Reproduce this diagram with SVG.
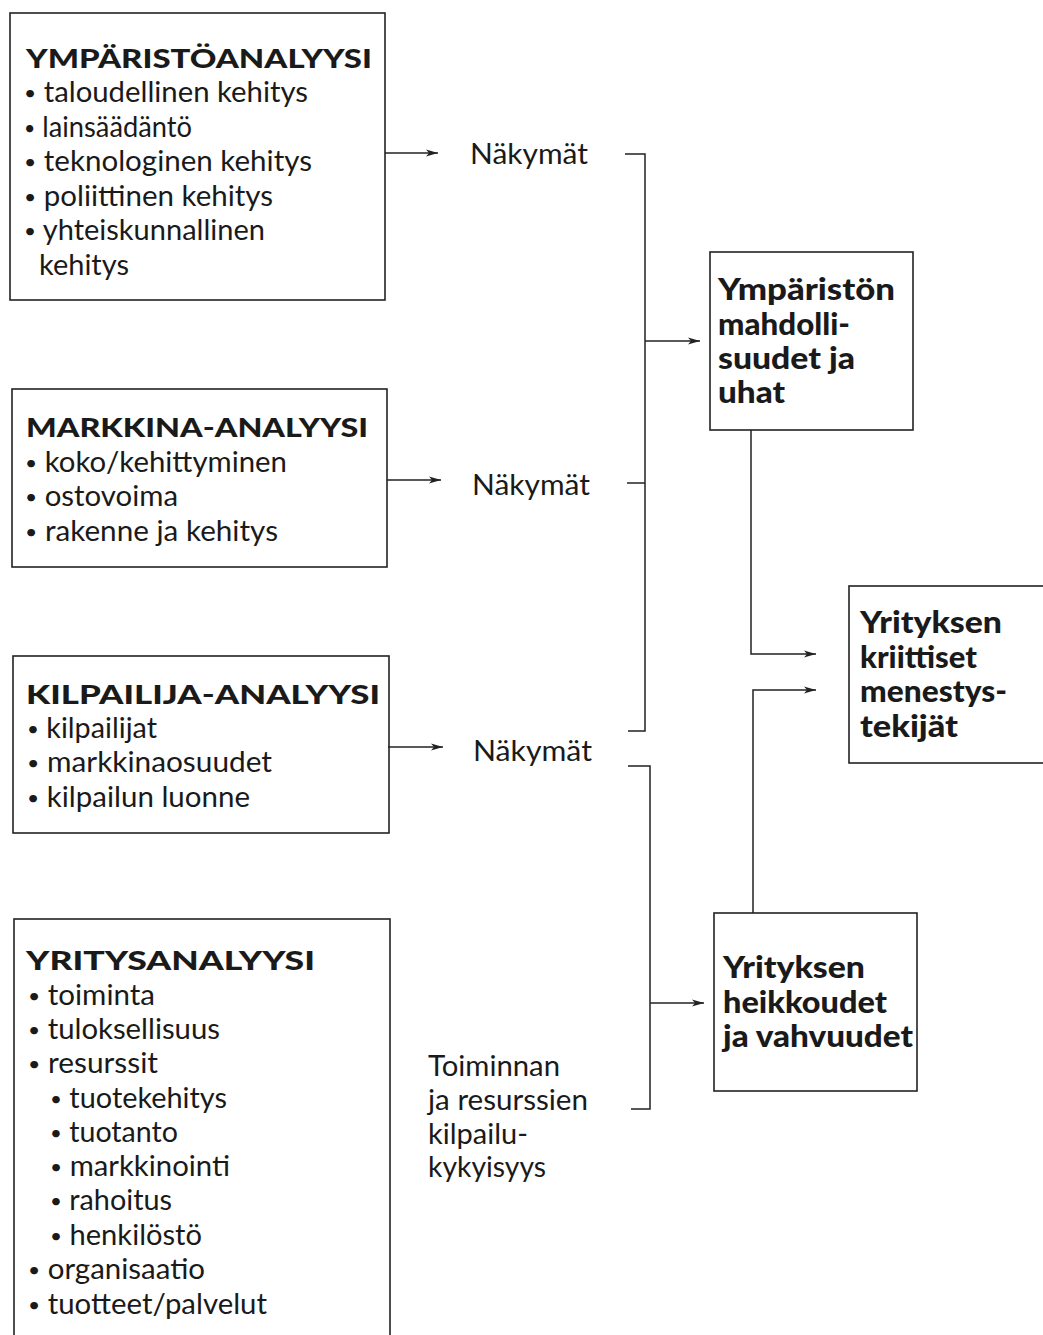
<svg xmlns="http://www.w3.org/2000/svg" width="1043" height="1335" viewBox="0 0 1043 1335">
  <defs>
    <marker id="arrow" viewBox="0 0 12 8" refX="12" refY="4" markerWidth="12" markerHeight="8" markerUnits="userSpaceOnUse" orient="auto">
      <path d="M0,0.5 L12,4 L0,7.5 L3,4 Z" fill="#222"/>
    </marker>
    <style>
      .box { fill: #fff; stroke: #222; stroke-width: 1.6; }
      .wire { fill: none; stroke: #222; stroke-width: 1.5; }
      .arr { marker-end: url(#arrow); }
      text { font-family: Lato, "Open Sans", "Liberation Sans", sans-serif; fill: #1a1a1a; }
      .head { font-size: 27px; font-weight: 900; }
      .item { font-size: 28px; }
      .b { font-size: 20px; baseline-shift: 2px; }
      .lbl { font-size: 28px; }
      .res { font-size: 30px; font-weight: 900; }
    </style>
  </defs>

  <rect width="1043" height="1335" fill="#fff"/>

  <!-- Environment analysis -->
  <g id="ymparistoanalyysi">
    <rect class="box" x="10" y="13" width="375" height="287"/>
    <text class="head" x="26" y="68" textLength="346" lengthAdjust="spacingAndGlyphs">YMPÄRISTÖANALYYSI</text>
    <text class="item" x="24" y="102" textLength="284" lengthAdjust="spacingAndGlyphs"><tspan class="b">•</tspan> taloudellinen kehitys</text>
    <text class="item" x="24" y="137" textLength="168" lengthAdjust="spacingAndGlyphs"><tspan class="b">•</tspan> lainsäädäntö</text>
    <text class="item" x="24" y="171" textLength="288" lengthAdjust="spacingAndGlyphs"><tspan class="b">•</tspan> teknologinen kehitys</text>
    <text class="item" x="24" y="206" textLength="249" lengthAdjust="spacingAndGlyphs"><tspan class="b">•</tspan> poliittinen kehitys</text>
    <text class="item" x="24" y="240" textLength="241" lengthAdjust="spacingAndGlyphs"><tspan class="b">•</tspan> yhteiskunnallinen</text>
    <text class="item" x="39" y="275" textLength="90" lengthAdjust="spacingAndGlyphs">kehitys</text>
  </g>

  <!-- Market analysis -->
  <g id="markkina-analyysi">
    <rect class="box" x="12" y="389" width="375" height="178"/>
    <text class="head" x="26" y="437" textLength="342" lengthAdjust="spacingAndGlyphs">MARKKINA-ANALYYSI</text>
    <text class="item" x="25" y="472" textLength="262" lengthAdjust="spacingAndGlyphs"><tspan class="b">•</tspan> koko/kehittyminen</text>
    <text class="item" x="25" y="506" textLength="153" lengthAdjust="spacingAndGlyphs"><tspan class="b">•</tspan> ostovoima</text>
    <text class="item" x="25" y="541" textLength="253" lengthAdjust="spacingAndGlyphs"><tspan class="b">•</tspan> rakenne ja kehitys</text>
  </g>

  <!-- Competitor analysis -->
  <g id="kilpailija-analyysi">
    <rect class="box" x="13" y="656" width="376" height="177"/>
    <text class="head" x="26" y="704" textLength="354" lengthAdjust="spacingAndGlyphs">KILPAILIJA-ANALYYSI</text>
    <text class="item" x="27" y="738" textLength="130" lengthAdjust="spacingAndGlyphs"><tspan class="b">•</tspan> kilpailijat</text>
    <text class="item" x="27" y="772" textLength="245" lengthAdjust="spacingAndGlyphs"><tspan class="b">•</tspan> markkinaosuudet</text>
    <text class="item" x="27" y="807" textLength="223" lengthAdjust="spacingAndGlyphs"><tspan class="b">•</tspan> kilpailun luonne</text>
  </g>

  <!-- Company analysis (box runs past the bottom edge) -->
  <g id="yritysanalyysi">
    <rect class="box" x="14" y="919" width="376" height="440"/>
    <text class="head" x="26" y="970" textLength="289" lengthAdjust="spacingAndGlyphs">YRITYSANALYYSI</text>
    <text class="item" x="28" y="1005" textLength="127" lengthAdjust="spacingAndGlyphs"><tspan class="b">•</tspan> toiminta</text>
    <text class="item" x="28" y="1039" textLength="192" lengthAdjust="spacingAndGlyphs"><tspan class="b">•</tspan> tuloksellisuus</text>
    <text class="item" x="28" y="1073" textLength="130" lengthAdjust="spacingAndGlyphs"><tspan class="b">•</tspan> resurssit</text>
    <text class="item" x="50" y="1108" textLength="177" lengthAdjust="spacingAndGlyphs"><tspan class="b">•</tspan> tuotekehitys</text>
    <text class="item" x="50" y="1142" textLength="128" lengthAdjust="spacingAndGlyphs"><tspan class="b">•</tspan> tuotanto</text>
    <text class="item" x="50" y="1176" textLength="180" lengthAdjust="spacingAndGlyphs"><tspan class="b">•</tspan> markkinointi</text>
    <text class="item" x="50" y="1210" textLength="122" lengthAdjust="spacingAndGlyphs"><tspan class="b">•</tspan> rahoitus</text>
    <text class="item" x="50" y="1245" textLength="152" lengthAdjust="spacingAndGlyphs"><tspan class="b">•</tspan> henkilöstö</text>
    <text class="item" x="28" y="1279" textLength="177" lengthAdjust="spacingAndGlyphs"><tspan class="b">•</tspan> organisaatio</text>
    <text class="item" x="28" y="1314" textLength="239" lengthAdjust="spacingAndGlyphs"><tspan class="b">•</tspan> tuotteet/palvelut</text>
  </g>

  <!-- Outlook labels -->
  <g id="nakymat-1"><text class="lbl" x="470" y="164" textLength="118" lengthAdjust="spacingAndGlyphs">Näkymät</text></g>
  <g id="nakymat-2"><text class="lbl" x="472" y="495" textLength="118" lengthAdjust="spacingAndGlyphs">Näkymät</text></g>
  <g id="nakymat-3"><text class="lbl" x="473" y="761" textLength="119" lengthAdjust="spacingAndGlyphs">Näkymät</text></g>
  <g id="kilpailukyky">
    <text class="lbl" x="428" y="1076" textLength="132" lengthAdjust="spacingAndGlyphs">Toiminnan</text>
    <text class="lbl" x="428" y="1110" textLength="160" lengthAdjust="spacingAndGlyphs">ja resurssien</text>
    <text class="lbl" x="428" y="1144" textLength="100" lengthAdjust="spacingAndGlyphs">kilpailu-</text>
    <text class="lbl" x="428" y="1177" textLength="118" lengthAdjust="spacingAndGlyphs">kykyisyys</text>
  </g>

  <!-- Opportunities and threats -->
  <g id="mahdollisuudet">
    <rect class="box" x="710" y="252" width="203" height="178"/>
    <text class="res" x="718" y="300" textLength="177" lengthAdjust="spacingAndGlyphs">Ympäristön</text>
    <text class="res" x="718" y="335" textLength="132" lengthAdjust="spacingAndGlyphs">mahdolli-</text>
    <text class="res" x="718" y="369" textLength="137" lengthAdjust="spacingAndGlyphs">suudet ja</text>
    <text class="res" x="718" y="403" textLength="67" lengthAdjust="spacingAndGlyphs">uhat</text>
  </g>

  <!-- Critical success factors (box runs past the right edge) -->
  <g id="menestystekijat">
    <rect class="box" x="849" y="586" width="220" height="177"/>
    <text class="res" x="860" y="633" textLength="142" lengthAdjust="spacingAndGlyphs">Yrityksen</text>
    <text class="res" x="860" y="668" textLength="117" lengthAdjust="spacingAndGlyphs">kriittiset</text>
    <text class="res" x="860" y="702" textLength="147" lengthAdjust="spacingAndGlyphs">menestys-</text>
    <text class="res" x="860" y="737" textLength="98" lengthAdjust="spacingAndGlyphs">tekijät</text>
  </g>

  <!-- Weaknesses and strengths -->
  <g id="heikkoudet">
    <rect class="box" x="714" y="913" width="203" height="178"/>
    <text class="res" x="723" y="978" textLength="142" lengthAdjust="spacingAndGlyphs">Yrityksen</text>
    <text class="res" x="723" y="1013" textLength="164" lengthAdjust="spacingAndGlyphs">heikkoudet</text>
    <text class="res" x="723" y="1047" textLength="190" lengthAdjust="spacingAndGlyphs">ja vahvuudet</text>
  </g>

  <!-- Connectors -->
  <g id="connectors">
    <path class="wire arr" d="M385,153 H438"/>
    <path class="wire arr" d="M387,480 H441"/>
    <path class="wire arr" d="M388,747 H443"/>
    <path class="wire" d="M625,154 H645 V731 H628"/>
    <path class="wire" d="M627,483 H645"/>
    <path class="wire arr" d="M645,341 H700"/>
    <path class="wire" d="M628,766 H650 V1109 H631"/>
    <path class="wire arr" d="M650,1003 H704"/>
    <path class="wire arr" d="M751,430 V654 H816"/>
    <path class="wire arr" d="M753,913 V690 H816"/>
  </g>
</svg>
